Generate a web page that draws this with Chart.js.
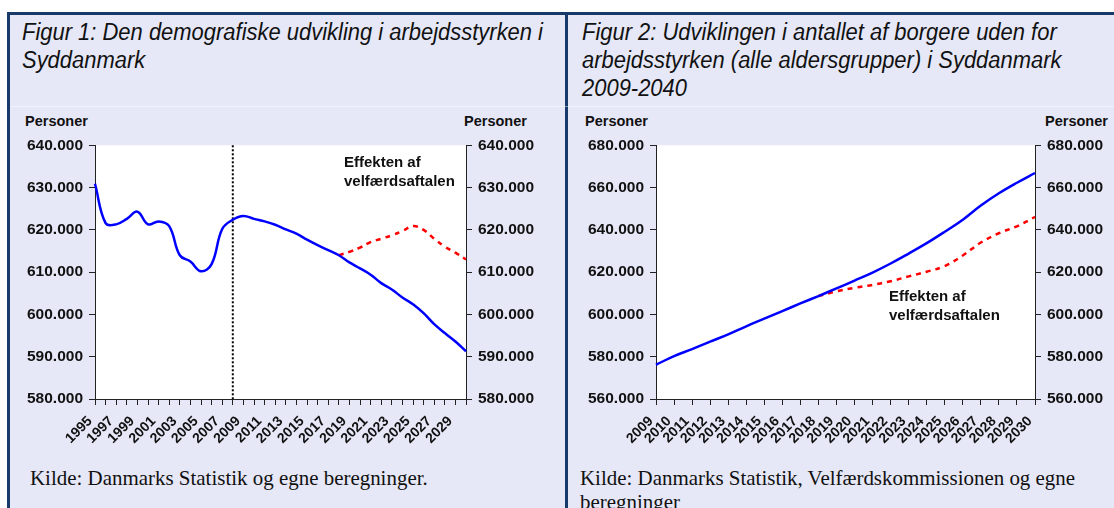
<!DOCTYPE html>
<html lang="da">
<head>
<meta charset="utf-8">
<script src="https://cdn.jsdelivr.net/npm/chart.js@4"></script>
<style>
  body { margin:0; width:1114px; height:508px; overflow:hidden; position:relative; background:#fff; font-family:"Liberation Sans", Arial, sans-serif; }
  #ramme { position:absolute; left:7px; top:12px; width:1107px; height:496px; background:#e6e8f7; border-top:3px solid #173a6a; border-left:3px solid #173a6a; box-sizing:border-box; }
  #skille { position:absolute; left:565px; top:12px; width:3px; height:496px; background:#173a6a; }
  #streg { position:absolute; left:10px; top:106px; width:1104px; height:1px; background:rgba(255,255,255,0.45); }
  .titel { position:absolute; font-family:"Liberation Sans Narrow","Arial Narrow","Liberation Sans",Arial,sans-serif; font-style:italic; font-size:23px; line-height:28px; color:#111; white-space:nowrap; transform-origin:0 0; }
  .kilde { position:absolute; font-family:"Liberation Serif","Times New Roman",serif; font-size:17px; line-height:24px; color:#111; white-space:nowrap; }
  .personer { position:absolute; font-weight:bold; font-size:14.5px; line-height:18px; color:#111; }
  .effekt { position:absolute; z-index:3; font-weight:bold; font-size:15px; line-height:18.5px; color:#111; }
  canvas { position:absolute; }
</style>
</head>
<body>
<div id="ramme"></div>
<div id="skille"></div>
<div id="streg"></div>

<div class="titel" id="t1" style="left:22px;top:18px;">Figur 1: Den demografiske udvikling i arbejdsstyrken i<br>Syddanmark</div>
<div class="titel" id="t2" style="left:582px;top:18px;">Figur 2: Udviklingen i antallet af borgere uden for<br>arbejdsstyrken (alle aldersgrupper) i Syddanmark<br>2009-2040</div>

<div class="personer" style="left:25px;top:112px;">Personer</div>
<div class="personer" style="left:464px;top:112px;">Personer</div>
<div class="personer" style="left:585px;top:112px;">Personer</div>
<div class="personer" style="left:1045px;top:112px;">Personer</div>

<canvas id="fig1" width="560" height="330" style="left:0;top:130px;"></canvas>
<canvas id="fig2" width="547" height="330" style="left:567px;top:130px;"></canvas>

<div class="effekt" style="left:344px;top:153px;">Effekten af<br>velfærdsaftalen</div>
<div class="effekt" style="left:889px;top:287px;">Effekten af<br>velfærdsaftalen</div>

<div class="kilde" id="k1" style="left:30px;top:466px;">Kilde: Danmarks Statistik og egne beregninger.</div>
<div class="kilde" id="k2" style="left:580px;top:466px;">Kilde: Danmarks Statistik, Velfærdskommissionen og egne<br>beregninger</div>

<script>
// Figur 1: arbejdsstyrken 1995-2030
const aar1 = ['1995','1996','1997','1998','1999','2000','2001','2002','2003','2004','2005','2006',
              '2007','2008','2009','2010','2011','2012','2013','2014','2015','2016','2017','2018',
              '2019','2020','2021','2022','2023','2024','2025','2026','2027','2028','2029','2030'];
const arbejdsstyrke = [630900, 621600, 621300, 622600, 624300, 621300, 622000, 620900, 614000, 612500, 610200, 611900,
                       620200, 622400, 623300, 622600, 622000, 621200, 620100, 619100, 617700, 616400, 615200, 614000,
                       612300, 610900, 609400, 607400, 605900, 604000, 602400, 600300, 597700, 595600, 593600, 591300];
const medAftale1 = [null, null, null, null, null, null, null, null, null, null, null, null,
                    null, null, null, null, null, null, null, null, null, null, null, 614000,
                    614800, 615800, 617100, 617900, 618700, 619700, 620900, 620000, 617900, 616000, 614600, 613000];
const prognoseStart = '2008';

// Figur 2: borgere uden for arbejdsstyrken 2009-2030
const aar2 = ['2009','2010','2011','2012','2013','2014','2015','2016','2017','2018','2019',
              '2020','2021','2022','2023','2024','2025','2026','2027','2028','2029','2030'];
const udenFor = [576200, 580300, 583600, 587100, 590600, 594400, 598000, 601600, 605200, 608700, 612300,
                 616000, 619800, 624100, 628800, 633700, 639100, 644800, 651500, 657300, 662300, 666900];
const medAftale2 = [null, null, null, null, null, null, null, null, null, 608700, 610900,
                    612600, 614000, 615700, 618000, 620200, 622900, 627900, 634000, 638400, 641700, 646100];

const yTicks1 = { min: 580000, max: 640000, step: 10000 };
const yTicks2 = { min: 560000, max: 680000, step: 20000 };

function punktum(v) { return String(v).replace(/\B(?=(\d{3})+(?!\d))/g, '.'); }

const hvidFlade = {
  id: 'hvidFlade',
  beforeDraw(chart) {
    const a = chart.chartArea, c = chart.ctx;
    c.save(); c.fillStyle = '#fff'; c.fillRect(a.left, a.top, a.right - a.left, a.bottom - a.top); c.restore();
  }
};

const skillelinje = {
  id: 'skillelinje',
  beforeDatasetsDraw(chart) {
    if (chart.canvas.id !== 'fig1') return;
    const x = chart.scales.x.getPixelForValue(aar1.indexOf(prognoseStart));
    const c = chart.ctx;
    c.save();
    c.strokeStyle = '#000'; c.lineWidth = 2; c.setLineDash([2, 2]);
    c.beginPath(); c.moveTo(x, chart.chartArea.top); c.lineTo(x, chart.chartArea.bottom); c.stroke();
    c.restore();
  }
};

const tickFont = { family: '"Liberation Sans", Arial, sans-serif', size: 15.5, weight: 'bold' };
const xFont = { family: '"Liberation Sans", Arial, sans-serif', size: 14, weight: 'bold' };

function yAkse(pos, t, bredde) {
  return {
    position: pos, min: t.min, max: t.max,
    border: { display: true, color: '#222', width: 1 },
    grid: { drawOnChartArea: false, tickLength: 6, color: '#222', tickWidth: 1 },
    ticks: { stepSize: t.step, color: '#111', font: tickFont, padding: 6, callback: v => punktum(v) },
    afterFit(s) { s.width = bredde; }
  };
}

function lav(id, labels, blaa, roed, t, venstre, hoejre, bund, hverAnden) {
  new Chart(document.getElementById(id), {
    type: 'line',
    data: {
      labels,
      datasets: [
        { data: blaa, borderColor: '#0000ff', borderWidth: 2.5, pointRadius: 0, tension: 0.4, yAxisID: 'y' },
        { data: roed, borderColor: '#ff0000', borderWidth: 2.5, borderDash: [5, 5], pointRadius: 0, tension: 0.4, yAxisID: 'y' }
      ]
    },
    options: {
      responsive: false, animation: false, devicePixelRatio: 1,
      layout: { padding: { top: 10, left: 0, right: 0, bottom: 0 } },
      plugins: { legend: { display: false }, tooltip: { enabled: false } },
      scales: {
        x: {
          border: { display: true, color: '#222', width: 1 },
          grid: { drawOnChartArea: false, tickLength: 6, color: '#222' },
          ticks: {
            autoSkip: false, minRotation: 45, maxRotation: 45, color: '#111', font: xFont,
            padding: 8, labelOffset: -5,
            callback: function (v, i) { return (!hverAnden || i % 2 === 0) ? this.getLabelForValue(v) : ''; }
          },
          afterFit(s) { s.height = bund; }
        },
        y: yAkse('left', t, venstre),
        y2: yAkse('right', t, hoejre)
      }
    },
    plugins: [hvidFlade, skillelinje]
  });
}

lav('fig1', aar1, arbejdsstyrke, medAftale1, yTicks1, 95, 94, 61, true);
lav('fig2', aar2, udenFor, medAftale2, yTicks2, 89, 79, 61, false);

// titler og kilder tilpasses bredden
const t1l = document.createElement('span');
t1l.textContent = 'Figur 1: Den demografiske udvikling i arbejdsstyrken i';
t1l.style.cssText = 'position:absolute;visibility:hidden;white-space:nowrap;font-family:"Liberation Sans Narrow","Arial Narrow","Liberation Sans",Arial,sans-serif;font-style:italic;font-size:23px;';
document.body.appendChild(t1l);
const skala = 521 / t1l.getBoundingClientRect().width;
document.getElementById('t1').style.transform = 'scaleX(' + skala + ')';
document.getElementById('t2').style.transform = 'scaleX(' + skala + ')';

const k1 = document.getElementById('k1');
const kw = k1.getBoundingClientRect().width;
const fs = 17 * 398 / kw;
k1.style.fontSize = fs + 'px';
document.getElementById('k2').style.fontSize = fs + 'px';
</script>
</body>
</html>
